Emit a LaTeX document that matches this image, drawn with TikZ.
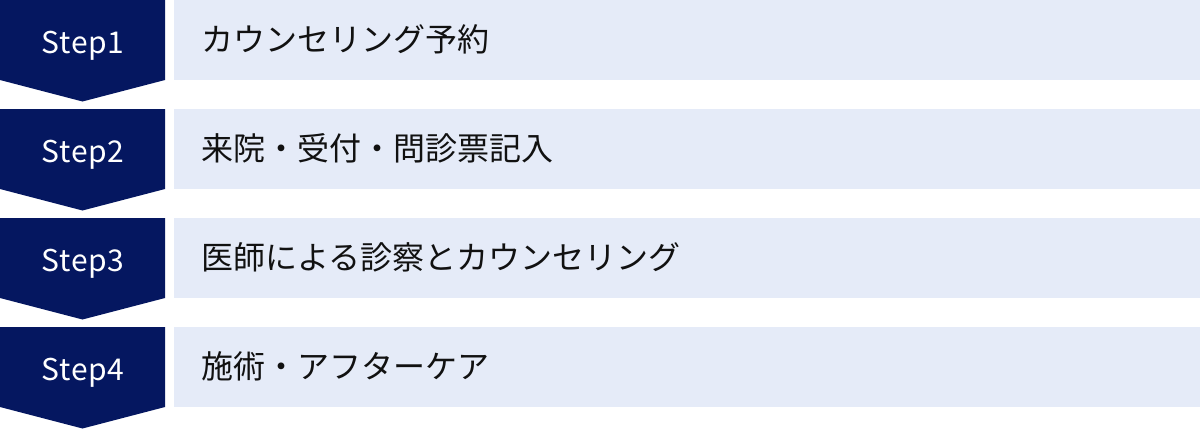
\documentclass[tikz,border=0pt]{standalone}
\usepackage{fontspec}
\setmainfont{Noto Sans CJK JP}
\newfontfamily\steplatin[LetterSpace=2]{Noto Sans CJK JP}
\definecolor{navy}{HTML}{051760}
\definecolor{lightbar}{HTML}{E5EBF8}
\definecolor{txt}{HTML}{111111}
\begin{document}
\begin{tikzpicture}[x=1pt,y=-1pt,
  steplabel/.style={text=white,inner sep=0pt,anchor=base,font=\steplatin\fontsize{30}{36}\selectfont},
  bartext/.style={text=txt,inner sep=0pt,anchor=base west,font=\fontsize{32}{38}\selectfont}]
\useasboundingbox (0,0) rectangle (1200,429);
\foreach \i/\t/\lab in {1/0/カウンセリング予約,2/109/来院・受付・問診票記入,3/218/医師による診察とカウンセリング,4/327/施術・アフターケア}{
  \fill[navy] (0,\t) -- (165,\t) -- (165,\t+80) -- (82.5,\t+101.5) -- (0,\t+80) -- cycle;
  \fill[lightbar] (174,\t) rectangle (1200,\t+80);
  \node[steplabel] (s\i) at (83,\t+53.3) {Step\i};
  \node[bartext] (b\i) at (201,\t+51) {\lab};
}
\end{tikzpicture}
\end{document}
